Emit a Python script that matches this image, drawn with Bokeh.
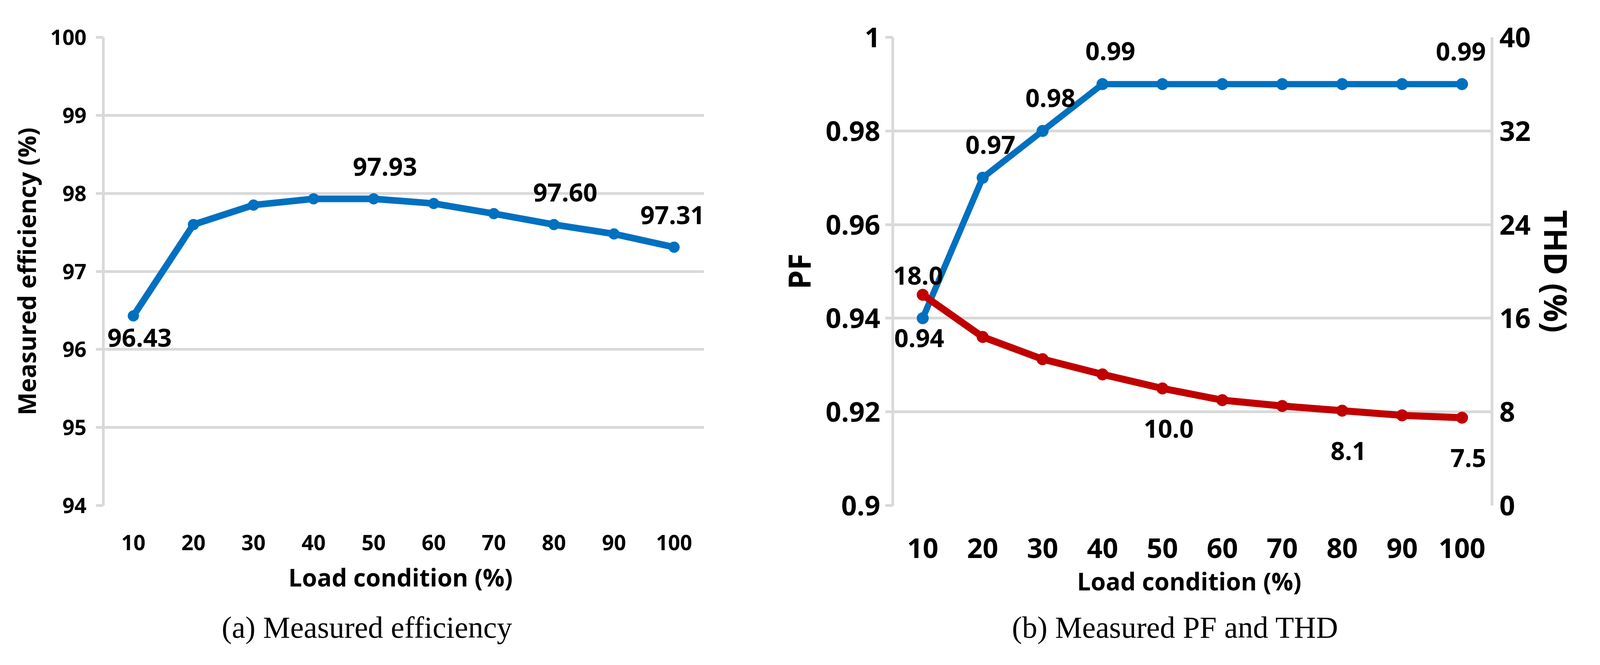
from bokeh.plotting import figure
from bokeh.models import (FactorRange, Range1d, LinearAxis, FixedTicker, Title,
                          ColumnDataSource, LabelSet, CustomJSTickFormatter)
from bokeh.layouts import row
from bokeh.embed import file_html
from bokeh.resources import INLINE
from bokeh.core.properties import value

# ---------------- data ----------------
loads = ["10", "20", "30", "40", "50", "60", "70", "80", "90", "100"]
efficiency = [96.43, 97.60, 97.85, 97.93, 97.93, 97.87, 97.74, 97.60, 97.48, 97.31]
pf = [0.94, 0.97, 0.98, 0.99, 0.99, 0.99, 0.99, 0.99, 0.99, 0.99]
thd = [18.0, 14.4, 12.5, 11.2, 10.0, 9.0, 8.5, 8.1, 7.7, 7.5]
eff_ticks = [94, 95, 96, 97, 98, 99, 100]
pf_ticks = [0.90, 0.92, 0.94, 0.96, 0.98, 1.00]
thd_ticks = [0, 8, 16, 24, 32, 40]
eff_labelled = [0, 4, 7, 9]
pf_labelled = [0, 1, 2, 3, 9]
thd_labelled = [0, 4, 7, 9]
caption_a = "(a) Measured efficiency"
caption_b = "(b) Measured PF and THD"

FONT = "Open Sans"
SERIF = "Liberation Serif"
GRID = "#d9d9d9"
BLUE = "#0070C0"
RED = "#C00000"


def style_common(p, tick_size, tick_standoff, title_size, title_standoff):
    p.outline_line_color = None
    p.background_fill_color = "white"
    p.border_fill_color = "white"
    p.xgrid.grid_line_color = None
    p.ygrid.grid_line_color = GRID
    p.ygrid.grid_line_width = 7
    xa = p.xaxis[0]
    xa.axis_line_color = None
    xa.major_tick_line_color = None
    xa.minor_tick_line_color = None
    xa.major_tick_out = 0
    xa.major_tick_in = 0
    xa.major_label_standoff = tick_standoff
    xa.major_label_text_font = FONT
    xa.major_label_text_font_style = "bold"
    xa.major_label_text_font_size = tick_size
    xa.major_label_text_color = "black"
    xa.axis_label = "Load condition  (%)"
    xa.axis_label_text_font = FONT
    xa.axis_label_text_font_style = "bold"
    xa.axis_label_text_font_size = title_size
    xa.axis_label_text_color = "black"
    xa.axis_label_standoff = title_standoff


def style_yaxis(ax, tick_size, title_size, tick_out, standoff, title_standoff):
    ax.axis_line_color = GRID
    ax.axis_line_width = 7
    ax.major_tick_line_color = GRID if tick_out else None
    ax.major_tick_line_width = 7
    ax.major_tick_out = tick_out
    ax.major_tick_in = 0
    ax.minor_tick_line_color = None
    ax.major_label_standoff = standoff
    ax.major_label_text_font = FONT
    ax.major_label_text_font_style = "bold"
    ax.major_label_text_font_size = tick_size
    ax.major_label_text_color = "black"
    ax.axis_label_text_font = FONT
    ax.axis_label_text_font_style = "bold"
    ax.axis_label_text_font_size = title_size
    ax.axis_label_text_color = "black"
    ax.axis_label_standoff = title_standoff


def add_labels(p, idx, vals, fmt, dx, dy, size, y_range_name="default"):
    src = ColumnDataSource(dict(
        x=[loads[i] for i in idx],
        y=[vals[i] for i in idx],
        t=[fmt.format(vals[i]) for i in idx],
    ))
    p.add_layout(LabelSet(x="x", y="y", text="t", source=src,
                          x_offset=dx, y_offset=dy,
                          text_align="center", text_baseline="middle",
                          text_font=value(FONT), text_font_style="bold",
                          text_font_size=size, text_color="black",
                          y_range_name=y_range_name))


def add_caption(p, text, offset, standoff):
    p.add_layout(Title(text=text, align="left", offset=offset, standoff=standoff,
                       text_font=SERIF, text_font_size="78px",
                       text_font_style="normal", text_color="black"), "below")


# ---------------- (a) efficiency ----------------
p1 = figure(x_range=FactorRange(factors=loads), y_range=Range1d(94, 100),
            width=1984, height=1687, output_backend="svg", toolbar_location=None,
            min_border_left=264, min_border_right=182, min_border_top=95,
            min_border_bottom=381)
style_common(p1, "54px", 75, "62px", 24)
p1.yaxis.ticker = FixedTicker(ticks=eff_ticks)
style_yaxis(p1.yaxis[0], "54px", "62px", 19, 24, 16)
p1.yaxis.axis_label = "Measured efficiency (%)"

p1.line(x=loads, y=efficiency, line_color=BLUE, line_width=17)
p1.scatter(x=loads, y=efficiency, size=28, fill_color=BLUE, line_color=BLUE)

add_labels(p1, [eff_labelled[0]], efficiency, "{:.2f}", 16, -56, "64px")
add_labels(p1, eff_labelled[1:3], efficiency, "{:.2f}", 29, 82, "64px")
add_labels(p1, eff_labelled[3:], efficiency, "{:.2f}", -4, 82, "64px")
add_caption(p1, caption_a, 303, 76)

# ---------------- (b) PF and THD ----------------
p2 = figure(x_range=FactorRange(factors=loads), y_range=Range1d(0.9, 1.0),
            width=2057, height=1687, output_backend="svg", toolbar_location=None,
            min_border_left=301, min_border_right=200, min_border_top=72,
            min_border_bottom=373)
p2.extra_y_ranges = {"thd": Range1d(0, 40)}
style_common(p2, "70px", 83, "62px", 14)
p2.yaxis.ticker = FixedTicker(ticks=pf_ticks)
p2.yaxis.formatter = CustomJSTickFormatter(
    code="return tick.toFixed(2).replace(/0+$/, '').replace(/\\.$/, '');")
style_yaxis(p2.yaxis[0], "70px", "78px", 19, 13, 12)
p2.yaxis.axis_label = "PF"

thd_axis = LinearAxis(y_range_name="thd", ticker=FixedTicker(ticks=thd_ticks),
                      axis_label="THD (%)")
style_yaxis(thd_axis, "70px", "80px", 0, 19, 8)
p2.add_layout(thd_axis, "right")

p2.line(x=loads, y=pf, line_color=BLUE, line_width=16)
p2.scatter(x=loads, y=pf, size=30, fill_color=BLUE, line_color=BLUE)
p2.line(x=loads, y=thd, line_color=RED, line_width=18, y_range_name="thd")
p2.scatter(x=loads, y=thd, size=30, fill_color=RED, line_color=RED, y_range_name="thd")

add_labels(p2, [pf_labelled[0]], pf, "{:.2f}", -9, -51, "64px")
add_labels(p2, pf_labelled[1:4], pf, "{:.2f}", 20, 84, "64px")
add_labels(p2, pf_labelled[4:], pf, "{:.2f}", -3, 83, "64px")
add_labels(p2, [thd_labelled[0]], thd, "{:.1f}", -12, 49, "64px", "thd")
add_labels(p2, thd_labelled[1:], thd, "{:.1f}", 16, -103, "64px", "thd")
add_caption(p2, caption_b, 305, 56)

layout = row(p1, p2)
open("out.html", "w").write(file_html(layout, INLINE))
